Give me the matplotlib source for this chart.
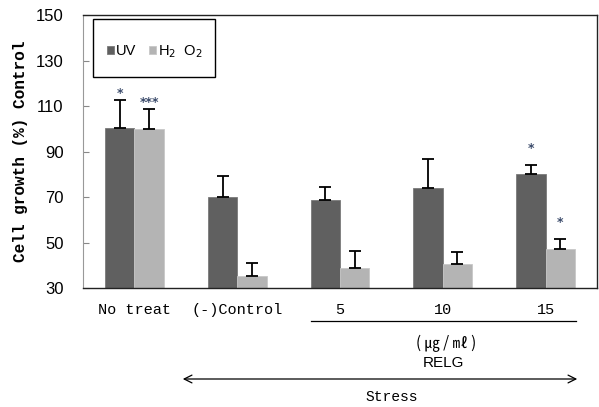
import matplotlib
matplotlib.use("Agg")
import matplotlib.pyplot as plt
from matplotlib.patches import Rectangle
import numpy as np

# ── 데이터 ──────────────────────────────────────────────
groups = ["No treat", "(-)Control", "5", "10", "15"]
uv_mean = [100.3, 70.0, 68.5, 74.0, 80.3]
uv_err = [12.5, 9.2, 5.8, 12.7, 3.7]
h2o2_mean = [100.0, 35.3, 39.0, 40.6, 47.2]
h2o2_err = [8.8, 5.8, 7.4, 5.2, 4.2]
uv_marks = ["*", "", "", "", "*"]
h2o2_marks = ["***", "", "", "", "*"]
yticks = [30, 50, 70, 90, 110, 130, 150]

UV_COLOR = "#606060"
H2O2_COLOR = "#b4b4b4"
MONO = "Liberation Mono"
SANS = "Liberation Sans"

fig = plt.figure(figsize=(5.99, 4.07), dpi=100)
ax = fig.add_axes([0.1386, 0.2924, 0.858, 0.6706])

x = np.arange(len(groups))
w = 0.286
zeros = np.zeros(len(groups))
ekw = dict(ecolor="black", elinewidth=1.3, capsize=4.5, capthick=1.3)

ax.bar(x - w / 2, uv_mean, w, color=UV_COLOR, edgecolor="#7a7a7a",
       linewidth=0.6, label="UV",
       yerr=[zeros, uv_err], error_kw=ekw, zorder=2)
ax.bar(x + w / 2, h2o2_mean, w, color=H2O2_COLOR, edgecolor="#c8c8c8",
       linewidth=0.6, label=r"H$_2$  O$_2$",
       yerr=[zeros, h2o2_err], error_kw=ekw, zorder=2)

# 유의성 표시 (막대 오차선 위 간격)
gap = [2.8, 0, 0, 0, 7.5]
for i in range(len(groups)):
    if uv_marks[i]:
        ax.text(x[i] - w / 2, uv_mean[i] + uv_err[i] + gap[i], uv_marks[i],
                ha="center", va="center", fontsize=9, color="#3a4a6a",
                fontweight="bold")
    if h2o2_marks[i]:
        ax.text(x[i] + w / 2, h2o2_mean[i] + h2o2_err[i] + gap[i], h2o2_marks[i],
                ha="center", va="center", fontsize=9, color="#3a4a6a",
                fontweight="bold")

ax.set_xlim(-0.5, 4.5)
ax.set_ylim(30, 150)
ax.set_yticks(yticks)
ax.set_yticklabels([str(t) for t in yticks], fontsize=12, family=SANS)
ax.tick_params(axis="y", direction="in", length=4, width=0.8,
               colors="#888888", labelcolor="black", pad=14)
ax.set_xticks(x)
ax.set_xticklabels(groups, fontsize=11, family=MONO)
ax.tick_params(axis="x", length=0, pad=11)

for side in ("top", "right", "bottom"):
    ax.spines[side].set_color("#222222")
    ax.spines[side].set_linewidth(1.0)
ax.spines["left"].set_color("#999999")
ax.spines["left"].set_linewidth(0.8)

ax.set_ylabel("Cell growth (%) Control", fontsize=11.6, fontweight="bold",
              family=MONO)
ax.yaxis.set_label_coords(-0.107, 0.5)

# 범례: 테두리 상자는 따로 그림
ax.add_patch(Rectangle((0.0195, 0.773), 0.2375, 0.212, transform=ax.transAxes,
                       facecolor="white", edgecolor="black", linewidth=1.0,
                       zorder=3))
leg = ax.legend(loc="center left", ncol=2, frameon=False,
                prop=dict(family=SANS, size=10.5),
                handlelength=0.45, handleheight=0.45, handletextpad=0.15,
                columnspacing=0.9, borderpad=0,
                bbox_to_anchor=(0.0467, 0.866), borderaxespad=0)
leg.set_zorder(4)

# RELG 농도 구간 표시
fig.add_artist(plt.Line2D([311 / 599, 576 / 599], [1 - 321 / 407] * 2,
                          color="black", linewidth=0.9))
fig.text(446 / 599, 1 - 343 / 407, "( ㎍ / ㎖ )", ha="center", va="center",
         fontsize=11, family=["Noto Sans CJK KR", "DejaVu Sans"])
fig.text(443 / 599, 1 - 363 / 407, "RELG", ha="center", va="center",
         fontsize=11, family=SANS)

# Stress 화살표
ax_arrow = fig.add_axes([0, 0, 1, 1], facecolor="none")
ax_arrow.set_axis_off()
ax_arrow.set_xlim(0, 1)
ax_arrow.set_ylim(0, 1)
ax_arrow.annotate("", xy=(180 / 599, 1 - 379 / 407),
                  xytext=(580 / 599, 1 - 379 / 407),
                  arrowprops=dict(arrowstyle="<->", color="black",
                                  linewidth=0.9, mutation_scale=14))
fig.text(392 / 599, 1 - 397 / 407, "Stress", ha="center", va="center",
         fontsize=10.5, family=MONO)

fig.savefig("out.png", dpi=100)
